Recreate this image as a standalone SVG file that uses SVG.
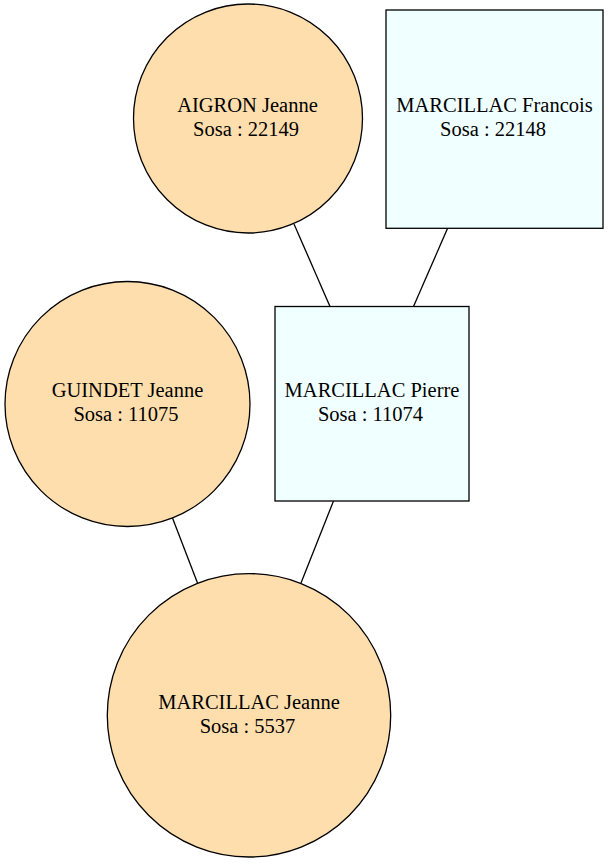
<svg xmlns="http://www.w3.org/2000/svg" width="609" height="863" viewBox="0 0 609 863">
<style>
.f{fill:#ffdead;stroke:#000;stroke-width:1.3}
.m{fill:#f0ffff;stroke:#000;stroke-width:1.3}
.t{font-family:'Liberation Serif','Times New Roman',serif;font-size:20.5px;text-anchor:middle;fill:#000}
.e{stroke:#000;stroke-width:1.3;fill:none}
</style>
<rect width="609" height="863" fill="#fff"/>
<g id="edges">
<line class="e" x1="294" y1="224" x2="330" y2="306.5"/>
<line class="e" x1="447.5" y1="228.5" x2="413.5" y2="306.5"/>
<line class="e" x1="172.5" y1="518" x2="197.5" y2="583"/>
<line class="e" x1="333.5" y1="501" x2="301" y2="583"/>
</g>
<g id="aigron">
<circle class="f" cx="248" cy="118.5" r="114.5"/>
<text class="t" x="247.5" y="112">AIGRON Jeanne</text>
<text class="t" x="246" y="136">Sosa : 22149</text>
</g>
<g id="francois">
<rect class="m" x="386" y="10" width="217" height="218.3"/>
<text class="t" x="494.5" y="112">MARCILLAC Francois</text>
<text class="t" x="493" y="136">Sosa : 22148</text>
</g>
<g id="guindet">
<circle class="f" cx="127.5" cy="404" r="122.5"/>
<text class="t" x="127.5" y="397">GUINDET Jeanne</text>
<text class="t" x="126" y="421">Sosa : 11075</text>
</g>
<g id="pierre">
<rect class="m" x="275" y="306.5" width="194" height="194.5"/>
<text class="t" x="372" y="397">MARCILLAC Pierre</text>
<text class="t" x="370.5" y="421">Sosa : 11074</text>
</g>
<g id="jeanne">
<circle class="f" cx="249" cy="715.3" r="141.7"/>
<text class="t" x="249" y="708.5">MARCILLAC Jeanne</text>
<text class="t" x="247.5" y="732.5">Sosa : 5537</text>
</g>
</svg>
